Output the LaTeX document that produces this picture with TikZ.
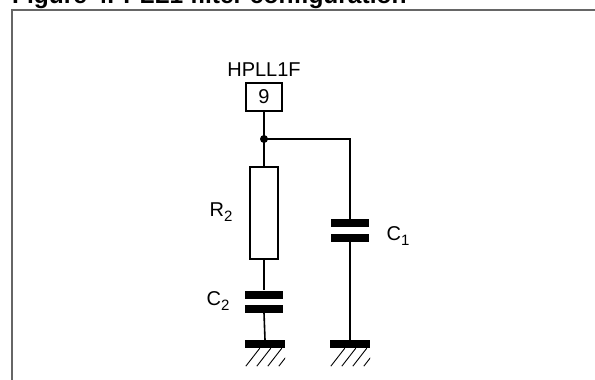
\documentclass[tikz,border=0pt]{standalone}
\usepackage{fontspec}
\setmainfont{Liberation Sans}
\newcommand\lblfont{\fontsize{20}{24}\selectfont}
\newcommand\subfont{\fontsize{15}{18}\selectfont}
\newcommand\ttlfont{\bfseries\fontsize{24.5}{28}\selectfont}
\begin{document}
\begin{tikzpicture}[x=1pt,y=-1pt,
  wire/.style={line width=1.6pt},
  framestyle/.style={draw=black!60, line width=1.5pt},
  pinbox/.style={draw, line width=1.6pt, minimum width=36pt, minimum height=28pt, inner sep=0pt, font=\lblfont},
  resbox/.style={draw, line width=1.6pt, minimum width=28pt, minimum height=92pt, inner sep=0pt},
  plate/.style={fill=black, minimum width=38pt, minimum height=8pt, inner sep=0pt},
  gndbar/.style={fill=black, minimum width=40pt, minimum height=8pt, inner sep=0pt},
  hatch/.style={line width=0.9pt},
  lbl/.style={font=\lblfont, inner sep=0pt},
  titlestyle/.style={font=\ttlfont, inner sep=0pt}]
\useasboundingbox (0,0) rectangle (595,380);
% title (cut off at top)
\node[titlestyle, anchor=base west] (title) at (12,3) {Figure 4. PLL1 filter configuration};
% frame
\draw[framestyle] (12,390) -- (12,10) -- (605,10);
% pin
\node[lbl] (hpll) at (264,70) {HPLL1F};
\node[pinbox] (pin) at (264,97) {9};
\coordinate (dot) at (264,139);
\coordinate (corner) at (350,139);
% resistor
\node[resbox] (r2) at (264,213) {};
\node[lbl] (r2l) at (221,212) {R\raisebox{-5pt}{\subfont 2}};
% C2
\node[plate] (c2a) at (264,294.5) {};
\node[plate] (c2b) at (264,308.5) {};
\node[lbl] (c2l) at (218,301) {C\raisebox{-5pt}{\subfont 2}};
% C1
\node[plate] (c1a) at (350,223) {};
\node[plate] (c1b) at (350,238) {};
\node[lbl] (c1l) at (398,236) {C\raisebox{-5pt}{\subfont 1}};
% grounds
\node[gndbar] (g1) at (265,344) {};
\node[gndbar] (g2) at (350,344) {};
% wires
\draw[wire] (pin.south) -- (dot) -- (r2.north);
\draw[wire] (dot) -- (corner) -- (c1a.north);
\draw[wire] (r2.south) -- (c2a.north);
\draw[wire] (c2b.south) -- (g1.north);
\draw[wire] (c1b.south) -- (g2.north);
\fill (dot) circle (4);
% hatching
\foreach \g in {g1,g2}{
  \begin{scope}
    \clip ([yshift=-0.01pt]\g.south west) rectangle ([yshift=-19pt]\g.south east);
    \foreach \i in {0,1,2,3}{
      \draw[hatch] ([xshift={1pt+\i*11pt}, yshift=-18pt]\g.south west) -- ++(14,-18);
    }
  \end{scope}
}
\end{tikzpicture}
\end{document}
